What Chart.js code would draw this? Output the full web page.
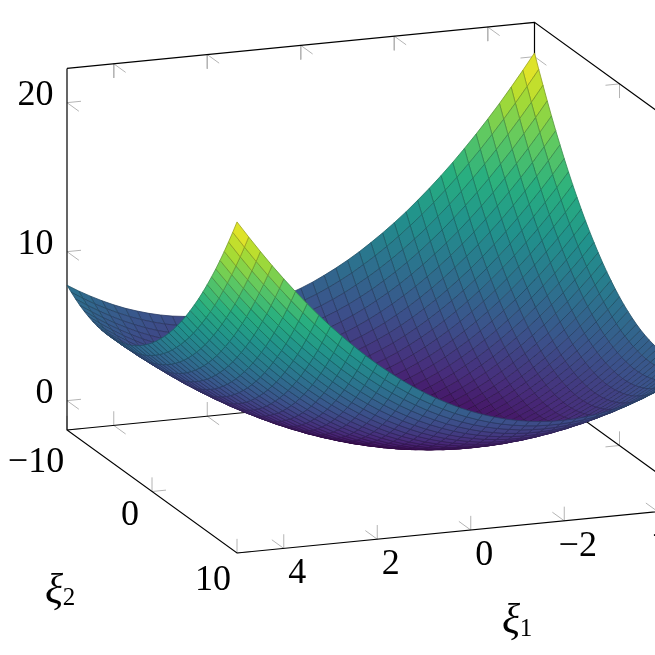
<!DOCTYPE html>
<html>
<head>
<meta charset="utf-8">
<style>body{margin:0;background:#fff}canvas{display:block}</style>
<script src="https://cdn.jsdelivr.net/npm/chart.js@4/dist/chart.umd.min.js"></script>
</head>
<body>
<canvas id="myChart" width="655" height="655"></canvas>
<script>
const xi1Values = [5,4.75,4.5,4.25,4,3.75,3.5,3.25,3,2.75,2.5,2.25,2,1.75,1.5,1.25,1,0.75,0.5,0.25,0,-0.25,-0.5,-0.75,-1,-1.25,-1.5,-1.75,-2,-2.25,-2.5,-2.75,-3,-3.25,-3.5,-3.75,-4,-4.25,-4.5,-4.75,-5];
const xi2Values = [-10,-9.5,-9,-8.5,-8,-7.5,-7,-6.5,-6,-5.5,-5,-4.5,-4,-3.5,-3,-2.5,-2,-1.5,-1,-0.5,0,0.5,1,1.5,2,2.5,3,3.5,4,4.5,5,5.5,6,6.5,7,7.5,8,8.5,9,9.5,10];
// one row per xi1 value, one column per xi2 value
const zRows = [
[7.75,7.48,7.24,7.02,6.84,6.69,6.57,6.47,6.41,6.38,6.38,6.4,6.46,6.55,6.67,6.81,6.99,7.2,7.44,7.7,8,8.33,8.69,9.07,9.49,9.94,10.42,10.92,11.46,12.03,12.63,13.25,13.91,14.6,15.32,16.06,16.84,17.65,18.49,19.35,20.25],
[7.28,6.99,6.74,6.51,6.31,6.14,6,5.9,5.82,5.77,5.75,5.76,5.81,5.88,5.98,6.11,6.27,6.46,6.69,6.94,7.22,7.53,7.87,8.25,8.65,9.08,9.54,10.03,10.56,11.11,11.69,12.3,12.94,13.61,14.32,15.05,15.81,16.6,17.42,18.28,19.16],
[6.86,6.55,6.28,6.03,5.82,5.64,5.48,5.36,5.27,5.2,5.17,5.16,5.19,5.25,5.33,5.45,5.6,5.77,5.98,6.21,6.48,6.78,7.1,7.46,7.85,8.26,8.71,9.18,9.69,10.23,10.79,11.39,12.02,12.67,13.36,14.07,14.82,15.6,16.4,17.24,18.11],
[6.47,6.15,5.86,5.6,5.37,5.17,5,4.86,4.75,4.67,4.62,4.6,4.62,4.66,4.73,4.83,4.96,5.12,5.31,5.53,5.78,6.06,6.37,6.71,7.08,7.48,7.91,8.37,8.87,9.39,9.94,10.52,11.13,11.77,12.44,13.14,13.87,14.63,15.42,16.24,17.09],
[6.12,5.79,5.48,5.21,4.96,4.75,4.56,4.41,4.28,4.19,4.12,4.09,4.08,4.11,4.16,4.25,4.36,4.51,4.68,4.89,5.12,5.39,5.68,6.01,6.36,6.75,7.16,7.61,8.08,8.59,9.12,9.69,10.28,10.91,11.56,12.25,12.96,13.71,14.48,15.29,16.12],
[5.81,5.46,5.14,4.85,4.59,4.36,4.16,3.99,3.85,3.74,3.66,3.61,3.59,3.59,3.63,3.7,3.8,3.93,4.09,4.28,4.5,4.75,5.03,5.34,5.68,6.05,6.45,6.88,7.34,7.82,8.34,8.89,9.47,10.08,10.72,11.39,12.09,12.82,13.58,14.37,15.19],
[5.55,5.18,4.84,4.54,4.26,4.01,3.8,3.61,3.46,3.33,3.23,3.17,3.13,3.12,3.15,3.2,3.29,3.4,3.54,3.72,3.92,4.15,4.42,4.71,5.04,5.39,5.77,6.19,6.63,7.1,7.61,8.14,8.71,9.3,9.92,10.58,11.26,11.97,12.72,13.49,14.3],
[5.32,4.94,4.58,4.26,3.97,3.71,3.48,3.27,3.1,2.96,2.85,2.77,2.72,2.69,2.7,2.74,2.81,2.91,3.03,3.19,3.38,3.6,3.85,4.12,4.43,4.77,5.14,5.54,5.97,6.42,6.91,7.43,7.98,8.56,9.16,9.8,10.47,11.17,11.9,12.65,13.44],
[5.13,4.73,4.37,4.03,3.72,3.44,3.2,2.98,2.79,2.63,2.51,2.41,2.34,2.3,2.3,2.32,2.37,2.45,2.57,2.71,2.88,3.08,3.32,3.58,3.87,4.19,4.55,4.93,5.34,5.78,6.26,6.76,7.29,7.85,8.45,9.07,9.72,10.4,11.12,11.86,12.63],
[4.98,4.57,4.19,3.83,3.51,3.22,2.95,2.72,2.52,2.34,2.2,2.09,2.01,1.95,1.93,1.94,1.97,2.04,2.14,2.26,2.42,2.61,2.82,3.07,3.35,3.65,3.99,4.36,4.76,5.18,5.64,6.13,6.64,7.19,7.77,8.37,9.01,9.68,10.37,11.1,11.86],
[4.88,4.45,4.05,3.68,3.34,3.03,2.75,2.5,2.29,2.1,1.94,1.81,1.71,1.64,1.6,1.59,1.62,1.67,1.75,1.86,2,2.17,2.37,2.6,2.87,3.16,3.48,3.83,4.21,4.62,5.06,5.53,6.04,6.57,7.13,7.72,8.34,8.99,9.67,10.38,11.13],
[4.81,4.36,3.95,3.56,3.21,2.89,2.59,2.33,2.09,1.89,1.71,1.57,1.46,1.37,1.32,1.29,1.3,1.33,1.4,1.49,1.62,1.78,1.96,2.18,2.42,2.7,3,3.34,3.71,4.1,4.53,4.98,5.47,5.98,6.53,7.1,7.71,8.35,9.01,9.71,10.43],
[4.78,4.32,3.89,3.49,3.12,2.78,2.47,2.19,1.94,1.72,1.53,1.37,1.24,1.14,1.07,1.03,1.02,1.04,1.09,1.17,1.28,1.42,1.59,1.79,2.02,2.28,2.57,2.89,3.24,3.62,4.03,4.47,4.94,5.44,5.97,6.53,7.12,7.74,8.39,9.07,9.78],
[4.79,4.32,3.87,3.46,3.07,2.71,2.39,2.09,1.83,1.59,1.39,1.21,1.07,0.95,0.86,0.81,0.78,0.79,0.82,0.89,0.98,1.1,1.26,1.44,1.66,1.9,2.18,2.48,2.82,3.18,3.57,4,4.45,4.94,5.45,6,6.57,7.17,7.81,8.47,9.17],
[4.85,4.35,3.89,3.46,3.06,2.69,2.35,2.04,1.76,1.5,1.28,1.09,0.93,0.8,0.7,0.63,0.59,0.57,0.59,0.64,0.72,0.83,0.97,1.14,1.34,1.56,1.82,2.11,2.43,2.78,3.16,3.57,4.01,4.47,4.97,5.5,6.06,6.65,7.27,7.92,8.6],
[4.94,4.43,3.95,3.51,3.09,2.7,2.35,2.02,1.72,1.46,1.22,1.01,0.84,0.69,0.57,0.48,0.43,0.4,0.4,0.44,0.5,0.59,0.72,0.87,1.05,1.27,1.51,1.78,2.09,2.42,2.78,3.17,3.6,4.05,4.53,5.05,5.59,6.16,6.77,7.4,8.06],
[5.07,4.55,4.06,3.59,3.16,2.76,2.39,2.04,1.73,1.45,1.2,0.97,0.78,0.62,0.49,0.38,0.31,0.27,0.26,0.27,0.32,0.4,0.51,0.64,0.81,1.01,1.24,1.49,1.78,2.1,2.45,2.82,3.23,3.67,4.14,4.63,5.16,5.72,6.31,6.92,7.57],
[5.24,4.7,4.2,3.72,3.27,2.85,2.46,2.11,1.78,1.48,1.21,0.97,0.77,0.59,0.44,0.32,0.23,0.17,0.15,0.15,0.18,0.24,0.33,0.46,0.61,0.79,1,1.24,1.52,1.82,2.15,2.51,2.9,3.32,3.78,4.26,4.77,5.31,5.88,6.49,7.12],
[5.46,4.9,4.38,3.88,3.42,2.99,2.58,2.21,1.87,1.55,1.27,1.01,0.79,0.6,0.43,0.3,0.2,0.12,0.08,0.06,0.08,0.13,0.2,0.31,0.45,0.61,0.81,1.03,1.29,1.58,1.89,2.24,2.62,3.02,3.46,3.92,4.42,4.95,5.5,6.09,6.71],
[5.71,5.14,4.6,4.09,3.61,3.16,2.74,2.35,1.99,1.66,1.36,1.09,0.86,0.65,0.47,0.32,0.2,0.11,0.05,0.02,0.02,0.05,0.11,0.2,0.32,0.47,0.65,0.86,1.11,1.38,1.68,2.01,2.37,2.76,3.18,3.63,4.11,4.62,5.16,5.73,6.33],
[6,5.42,4.86,4.34,3.84,3.38,2.94,2.54,2.16,1.82,1.5,1.22,0.96,0.74,0.54,0.38,0.24,0.14,0.06,0.02,0,0.02,0.06,0.14,0.24,0.38,0.54,0.74,0.96,1.22,1.5,1.82,2.16,2.54,2.94,3.38,3.84,4.34,4.86,5.42,6],
[6.33,5.73,5.16,4.62,4.11,3.63,3.18,2.76,2.37,2.01,1.68,1.38,1.11,0.86,0.65,0.47,0.32,0.2,0.11,0.05,0.02,0.02,0.05,0.11,0.2,0.32,0.47,0.65,0.86,1.09,1.36,1.66,1.99,2.35,2.74,3.16,3.61,4.09,4.6,5.14,5.71],
[6.71,6.09,5.5,4.95,4.42,3.92,3.46,3.02,2.62,2.24,1.89,1.58,1.29,1.03,0.81,0.61,0.45,0.31,0.2,0.13,0.08,0.06,0.08,0.12,0.2,0.3,0.43,0.6,0.79,1.01,1.27,1.55,1.87,2.21,2.58,2.99,3.42,3.88,4.38,4.9,5.46],
[7.12,6.49,5.88,5.31,4.77,4.26,3.78,3.32,2.9,2.51,2.15,1.82,1.52,1.24,1,0.79,0.61,0.46,0.33,0.24,0.18,0.15,0.15,0.17,0.23,0.32,0.44,0.59,0.77,0.97,1.21,1.48,1.78,2.11,2.46,2.85,3.27,3.72,4.2,4.7,5.24],
[7.57,6.92,6.31,5.72,5.16,4.63,4.14,3.67,3.23,2.82,2.45,2.1,1.78,1.49,1.24,1.01,0.81,0.64,0.51,0.4,0.32,0.27,0.26,0.27,0.31,0.38,0.49,0.62,0.78,0.97,1.2,1.45,1.73,2.04,2.39,2.76,3.16,3.59,4.06,4.55,5.07],
[8.06,7.4,6.77,6.16,5.59,5.05,4.53,4.05,3.6,3.17,2.78,2.42,2.09,1.78,1.51,1.27,1.05,0.87,0.72,0.59,0.5,0.44,0.4,0.4,0.43,0.48,0.57,0.69,0.84,1.01,1.22,1.46,1.72,2.02,2.35,2.7,3.09,3.51,3.95,4.43,4.94],
[8.6,7.92,7.27,6.65,6.06,5.5,4.97,4.47,4.01,3.57,3.16,2.78,2.43,2.11,1.82,1.56,1.34,1.14,0.97,0.83,0.72,0.64,0.59,0.57,0.59,0.63,0.7,0.8,0.93,1.09,1.28,1.5,1.76,2.04,2.35,2.69,3.06,3.46,3.89,4.35,4.85],
[9.17,8.47,7.81,7.17,6.57,6,5.45,4.94,4.45,4,3.57,3.18,2.82,2.48,2.18,1.9,1.66,1.44,1.26,1.1,0.98,0.89,0.82,0.79,0.78,0.81,0.86,0.95,1.07,1.21,1.39,1.59,1.83,2.09,2.39,2.71,3.07,3.46,3.87,4.32,4.79],
[9.78,9.07,8.39,7.74,7.12,6.53,5.97,5.44,4.94,4.47,4.03,3.62,3.24,2.89,2.57,2.28,2.02,1.79,1.59,1.42,1.28,1.17,1.09,1.04,1.02,1.03,1.07,1.14,1.24,1.37,1.53,1.72,1.94,2.19,2.47,2.78,3.12,3.49,3.89,4.32,4.78],
[10.43,9.71,9.01,8.35,7.71,7.1,6.53,5.98,5.47,4.98,4.53,4.1,3.71,3.34,3,2.7,2.42,2.18,1.96,1.78,1.62,1.49,1.4,1.33,1.3,1.29,1.32,1.37,1.46,1.57,1.71,1.89,2.09,2.33,2.59,2.89,3.21,3.56,3.95,4.36,4.81],
[11.13,10.38,9.67,8.99,8.34,7.72,7.13,6.57,6.04,5.53,5.06,4.62,4.21,3.83,3.48,3.16,2.87,2.6,2.37,2.17,2,1.86,1.75,1.67,1.62,1.59,1.6,1.64,1.71,1.81,1.94,2.1,2.29,2.5,2.75,3.03,3.34,3.68,4.05,4.45,4.88],
[11.86,11.1,10.37,9.68,9.01,8.37,7.77,7.19,6.64,6.13,5.64,5.18,4.76,4.36,3.99,3.65,3.35,3.07,2.82,2.61,2.42,2.26,2.14,2.04,1.97,1.94,1.93,1.95,2.01,2.09,2.2,2.34,2.52,2.72,2.95,3.22,3.51,3.83,4.19,4.57,4.98],
[12.63,11.86,11.12,10.4,9.72,9.07,8.45,7.85,7.29,6.76,6.26,5.78,5.34,4.93,4.55,4.19,3.87,3.58,3.32,3.08,2.88,2.71,2.57,2.45,2.37,2.32,2.3,2.3,2.34,2.41,2.51,2.63,2.79,2.98,3.2,3.44,3.72,4.03,4.37,4.73,5.13],
[13.44,12.65,11.9,11.17,10.47,9.8,9.16,8.56,7.98,7.43,6.91,6.42,5.97,5.54,5.14,4.77,4.43,4.12,3.85,3.6,3.38,3.19,3.03,2.91,2.81,2.74,2.7,2.69,2.72,2.77,2.85,2.96,3.1,3.27,3.48,3.71,3.97,4.26,4.58,4.94,5.32],
[14.3,13.49,12.72,11.97,11.26,10.58,9.92,9.3,8.71,8.14,7.61,7.1,6.63,6.19,5.77,5.39,5.04,4.71,4.42,4.15,3.92,3.72,3.54,3.4,3.29,3.2,3.15,3.12,3.13,3.17,3.23,3.33,3.46,3.61,3.8,4.01,4.26,4.54,4.84,5.18,5.55],
[15.19,14.37,13.58,12.82,12.09,11.39,10.72,10.08,9.47,8.89,8.34,7.82,7.34,6.88,6.45,6.05,5.68,5.34,5.03,4.75,4.5,4.28,4.09,3.93,3.8,3.7,3.63,3.59,3.59,3.61,3.66,3.74,3.85,3.99,4.16,4.36,4.59,4.85,5.14,5.46,5.81],
[16.12,15.29,14.48,13.71,12.96,12.25,11.56,10.91,10.28,9.69,9.12,8.59,8.08,7.61,7.16,6.75,6.36,6.01,5.68,5.39,5.12,4.89,4.68,4.51,4.36,4.25,4.16,4.11,4.08,4.09,4.12,4.19,4.28,4.41,4.56,4.75,4.96,5.21,5.48,5.79,6.12],
[17.09,16.24,15.42,14.63,13.87,13.14,12.44,11.77,11.13,10.52,9.94,9.39,8.87,8.37,7.91,7.48,7.08,6.71,6.37,6.06,5.78,5.53,5.31,5.12,4.96,4.83,4.73,4.66,4.62,4.6,4.62,4.67,4.75,4.86,5,5.17,5.37,5.6,5.86,6.15,6.47],
[18.11,17.24,16.4,15.6,14.82,14.07,13.36,12.67,12.02,11.39,10.79,10.23,9.69,9.18,8.71,8.26,7.85,7.46,7.1,6.78,6.48,6.21,5.98,5.77,5.6,5.45,5.33,5.25,5.19,5.16,5.17,5.2,5.27,5.36,5.48,5.64,5.82,6.03,6.28,6.55,6.86],
[19.16,18.28,17.42,16.6,15.81,15.05,14.32,13.61,12.94,12.3,11.69,11.11,10.56,10.03,9.54,9.08,8.65,8.25,7.87,7.53,7.22,6.94,6.69,6.46,6.27,6.11,5.98,5.88,5.81,5.76,5.75,5.77,5.82,5.9,6,6.14,6.31,6.51,6.74,6.99,7.28],
[20.25,19.35,18.49,17.65,16.84,16.06,15.32,14.6,13.91,13.25,12.63,12.03,11.46,10.92,10.42,9.94,9.49,9.07,8.69,8.33,8,7.7,7.44,7.2,6.99,6.81,6.67,6.55,6.46,6.4,6.38,6.38,6.41,6.47,6.57,6.69,6.84,7.02,7.24,7.48,7.75]
];
const xi1Ticks = [4, 2, 0, -2, -4];
const xi2Ticks = [-10, 0, 10];
const zTicks = [0, 10, 20];
const viridis = ["#440154","#472d7b","#3b528b","#2c728e","#21918c","#28ae80","#5ec962","#addc30","#fde725"];

const zBottom = -1.97, zTop = 22.3;

// orthographic view of the box, front corner is xi1=5, xi2=10, zBottom
function project(a, b, z) {
    return {
        x: 237 + 46.75 * (5 - a) + 8.5 * (b - 10),
        y: 553 - 4.6 * (5 - a) + 6.15 * (b - 10) - 14.9 * (z - zBottom)
    };
}

function hexToRgb(h) {
    return [parseInt(h.slice(1, 3), 16), parseInt(h.slice(3, 5), 16), parseInt(h.slice(5, 7), 16)];
}

function viridisAt(t) {
    t = Math.min(1, Math.max(0, t));
    const pos = t * (viridis.length - 1);
    const i = Math.min(viridis.length - 2, Math.floor(pos));
    const c0 = hexToRgb(viridis[i]), c1 = hexToRgb(viridis[i + 1]);
    return c0.map((v, k) => v + (c1[k] - v) * (pos - i));
}

function lineSet(points, color, width) {
    return {
        data: points, showLine: true, fill: false, borderColor: color, borderWidth: width,
        pointRadius: 0, borderCapStyle: "butt"
    };
}

const zAll = zRows.flat();
const zMin = Math.min(...zAll), zMax = Math.max(...zAll);

const cells = [];
// far rows first, xi1=-5 is at the back
for (let i = xi1Values.length - 2; i >= 0; i--) {
    for (let j = 0; j < xi2Values.length - 1; j++) {
        const a0 = xi1Values[i], a1 = xi1Values[i + 1], b0 = xi2Values[j], b1 = xi2Values[j + 1];
        const z00 = zRows[i][j], z01 = zRows[i][j + 1], z11 = zRows[i + 1][j + 1], z10 = zRows[i + 1][j];
        const c = viridisAt(((z00 + z01 + z11 + z10) / 4 - zMin) / (zMax - zMin));
        const p0 = project(a0, b0, z00);
        cells.push({
            data: [p0, project(a0, b1, z01), project(a1, b1, z11), project(a1, b0, z10), p0],
            showLine: true,
            fill: "shape",
            backgroundColor: `rgb(${c.map(Math.round).join(",")})`,
            borderColor: `rgb(${c.map(v => Math.round(v * 0.72)).join(",")})`,
            borderWidth: 0.8,
            pointRadius: 0
        });
    }
}

const boxLines = [];
const black = "#000000";
boxLines.push(lineSet([project(5, -10, zTop), project(-5, -10, zTop), project(-5, 10, zTop)], black, 1.2));
boxLines.push(lineSet([project(5, -10, zTop), project(5, -10, zBottom), project(5, 10, zBottom), project(-5, 10, zBottom), project(-5, -10, zBottom), project(5, -10, zBottom)], black, 1.2));
boxLines.push(lineSet([project(-5, -10, zTop), project(-5, -10, zBottom)], black, 1.2));

const tickLines = [];
const grey = "#b4b4b4";
function tick(a, b, z, da, db, dz) {
    tickLines.push(lineSet([project(a, b, z), project(a + da, b + db, z + dz)], grey, 1));
}
xi1Ticks.forEach(v => {
    tick(v, -10, zBottom, 0, 0, 0.95); tick(v, -10, zBottom, 0, 1.4, 0);
    tick(v, -10, zTop, 0, 0, -0.95); tick(v, -10, zTop, 0, 1.4, 0);
    tick(v, 10, zBottom, 0, 0, 0.95); tick(v, 10, zBottom, 0, -1.4, 0);
});
xi2Ticks.forEach(v => {
    tick(5, v, zBottom, 0, 0, 0.95); tick(5, v, zBottom, -0.3, 0, 0);
    tick(-5, v, zBottom, 0, 0, 0.95); tick(-5, v, zBottom, 0.3, 0, 0);
    tick(-5, v, zTop, 0, 0, -0.95); tick(-5, v, zTop, 0.3, 0, 0);
});
zTicks.forEach(v => {
    tick(5, -10, v, -0.3, 0, 0); tick(5, -10, v, 0, 1.4, 0);
    tick(-5, -10, v, 0.3, 0, 0); tick(-5, -10, v, 0, 1.4, 0);
});

// chart.js draws index 0 last, so nearest cell goes first
const datasets = cells.slice().reverse().concat(boxLines, tickLines);

const xi2LabelShift = { "-10": [-31, 33], "0": [-22, 24.5], "10": [-24, 28] };

const labelPlugin = {
    id: "axisLabels",
    afterDraw(chart) {
        const ctx = chart.ctx, sx = chart.scales.x, sy = chart.scales.y;
        const put = (text, px, py, size, style) => {
            ctx.font = `${style || ""} ${size}px "Liberation Serif"`;
            ctx.fillText(text, sx.getPixelForValue(px), sy.getPixelForValue(py));
        };
        ctx.save();
        ctx.fillStyle = "#000";
        ctx.textBaseline = "middle";
        ctx.textAlign = "center";
        const fmt = v => String(v).replace("-", "\u2212");
        xi1Ticks.forEach(v => {
            const p = project(v, 10, zBottom);
            put(fmt(v), p.x + 13.5, p.y + 25.5, 36);
        });
        xi2Ticks.forEach(v => {
            const p = project(5, v, zBottom), s = xi2LabelShift[v];
            put(fmt(v), p.x + s[0], p.y + s[1], 36);
        });
        ctx.textAlign = "right";
        zTicks.forEach(v => {
            const p = project(5, -10, v);
            put(fmt(v), p.x - 13.5, p.y - 7, 36);
        });
        ctx.textAlign = "center";
        put("\u03be", 511, 622, 42, "italic");
        put("1", 526, 629, 25);
        put("\u03be", 54, 592, 42, "italic");
        put("2", 69, 598, 25);
        ctx.restore();
    }
};

new Chart(document.getElementById("myChart"), {
    type: "scatter",
    data: { datasets: datasets },
    plugins: [labelPlugin],
    options: {
        responsive: false,
        animation: false,
        events: [],
        layout: { padding: 0 },
        plugins: { legend: { display: false }, tooltip: { enabled: false } },
        scales: {
            x: { type: "linear", min: 0, max: 655, display: false },
            y: { type: "linear", min: 0, max: 655, reverse: true, display: false }
        }
    }
});
</script>
</body>
</html>
